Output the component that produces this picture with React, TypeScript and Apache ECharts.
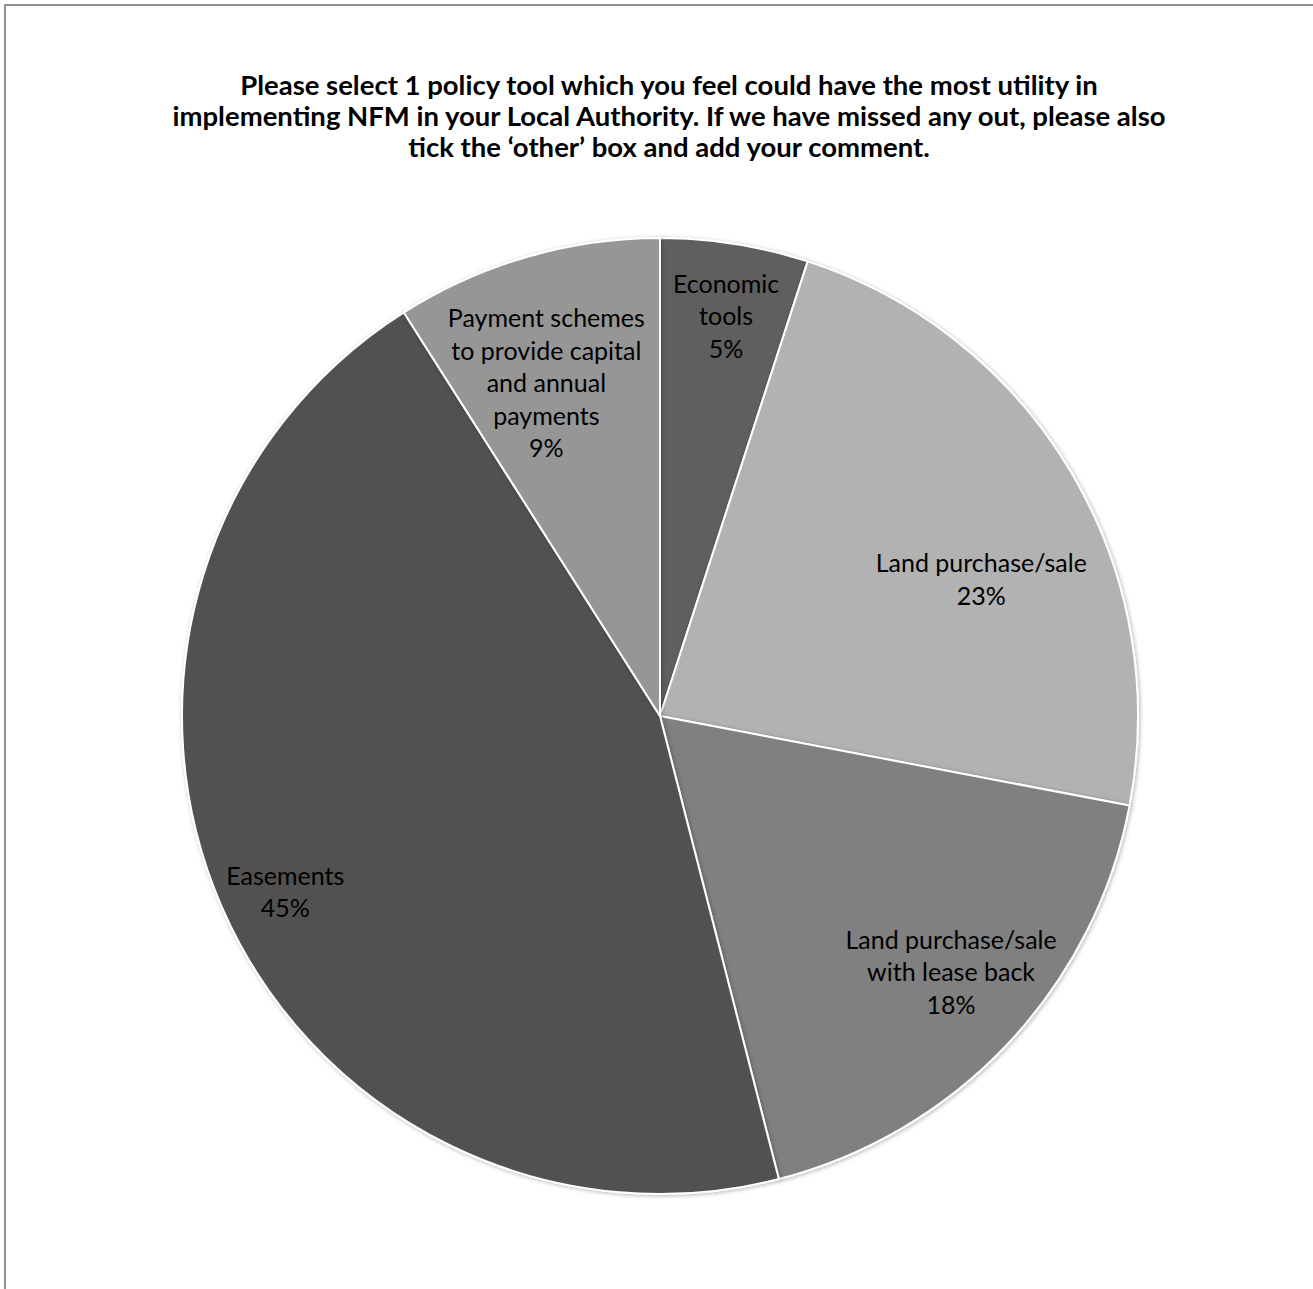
import React, { useEffect, useRef } from "react";
import * as echarts from "echarts";

const titleLines = [
  "Please select 1 policy tool which you feel could have the most utility in",
  "implementing NFM in your Local Authority. If we have missed any out, please also",
  "tick the \u2018other\u2019 box and add your comment.",
];

const categories = [
  "Economic tools",
  "Land purchase/sale",
  "Land purchase/sale with lease back",
  "Easements",
  "Payment schemes to provide capital and annual payments",
];
const labelNames = [
  "Economic\ntools",
  "Land purchase/sale",
  "Land purchase/sale\nwith lease back",
  "Easements",
  "Payment schemes\nto provide capital\nand annual\npayments",
];
const percentages = [5, 23, 18, 45, 9];

const colors = ["#5f5f5f", "#b2b2b2", "#808080", "#515151", "#969696"];

// label placement within each slice: t = fraction of slice angle, r = fraction of radius
const labelPlacement = [
  { t: 0.52, r: 0.85 },
  { t: 0.59, r: 0.731 },
  { t: 0.47, r: 0.81 },
  { t: 0.49, r: 0.865 },
  { t: 0.42, r: 0.738 },
];

const CX = 660;
const CY = 716;
const R = 478;
const FONT = "Lato, 'Open Sans', sans-serif";

export default function App() {
  const ref = useRef<HTMLDivElement>(null);
  useEffect(() => {
    if (!ref.current) return;
    const chart = echarts.init(ref.current, undefined, { renderer: "svg" });
    const total = percentages.reduce((a, b) => a + b, 0);
    const starts: number[] = [];
    let acc = 0;
    percentages.forEach((v) => {
      starts.push(acc);
      acc += v;
    });
    chart.setOption({
      animation: false,
      backgroundColor: "#ffffff",
      title: {
        text: titleLines.join("\n"),
        left: 664,
        top: 64,
        textAlign: "center",
        textStyle: {
          fontFamily: FONT,
          fontWeight: "bold",
          fontSize: 27.5,
          lineHeight: 31,
          color: "#000000",
        },
      },
      graphic: [
        {
          type: "rect",
          silent: true,
          z: -1,
          shape: { x: 5, y: 5, width: 1400, height: 1400 },
          style: { fill: "none", stroke: "#8e8e8e", lineWidth: 2 },
        },
      ],
      series: [
        {
          type: "pie",
          center: [CX, CY],
          radius: R,
          startAngle: 90,
          clockwise: true,
          avoidLabelOverlap: false,
          itemStyle: {
            borderColor: "#ffffff",
            borderWidth: 2,
            shadowBlur: 4,
            shadowColor: "rgba(0,0,0,0.3)",
            shadowOffsetX: 1,
            shadowOffsetY: 1,
          },
          emphasis: { disabled: true },
          label: {
            show: true,
            position: "inside",
            fontFamily: FONT,
            fontSize: 25,
            lineHeight: 32.5,
            color: "#000000",
            align: "center",
            formatter: (p: any) => `${labelNames[p.dataIndex]}\n${p.value}%`,
          },
          labelLine: { show: false },
          labelLayout: (p: any) => {
            const i = p.dataIndex;
            const pl = labelPlacement[i];
            const ang = ((starts[i] + percentages[i] * pl.t) / total) * Math.PI * 2;
            return {
              x: CX + Math.sin(ang) * R * pl.r,
              y: CY - Math.cos(ang) * R * pl.r,
              align: "center",
              verticalAlign: "middle",
            };
          },
          data: categories.map((name, i) => ({
            name,
            value: percentages[i],
            itemStyle: { color: colors[i] },
          })),
        },
      ],
    });
    return () => chart.dispose();
  }, []);
  return (
    <div
      ref={ref}
      style={{ position: "absolute", left: 0, top: 0, width: 1313, height: 1289 }}
    />
  );
}
